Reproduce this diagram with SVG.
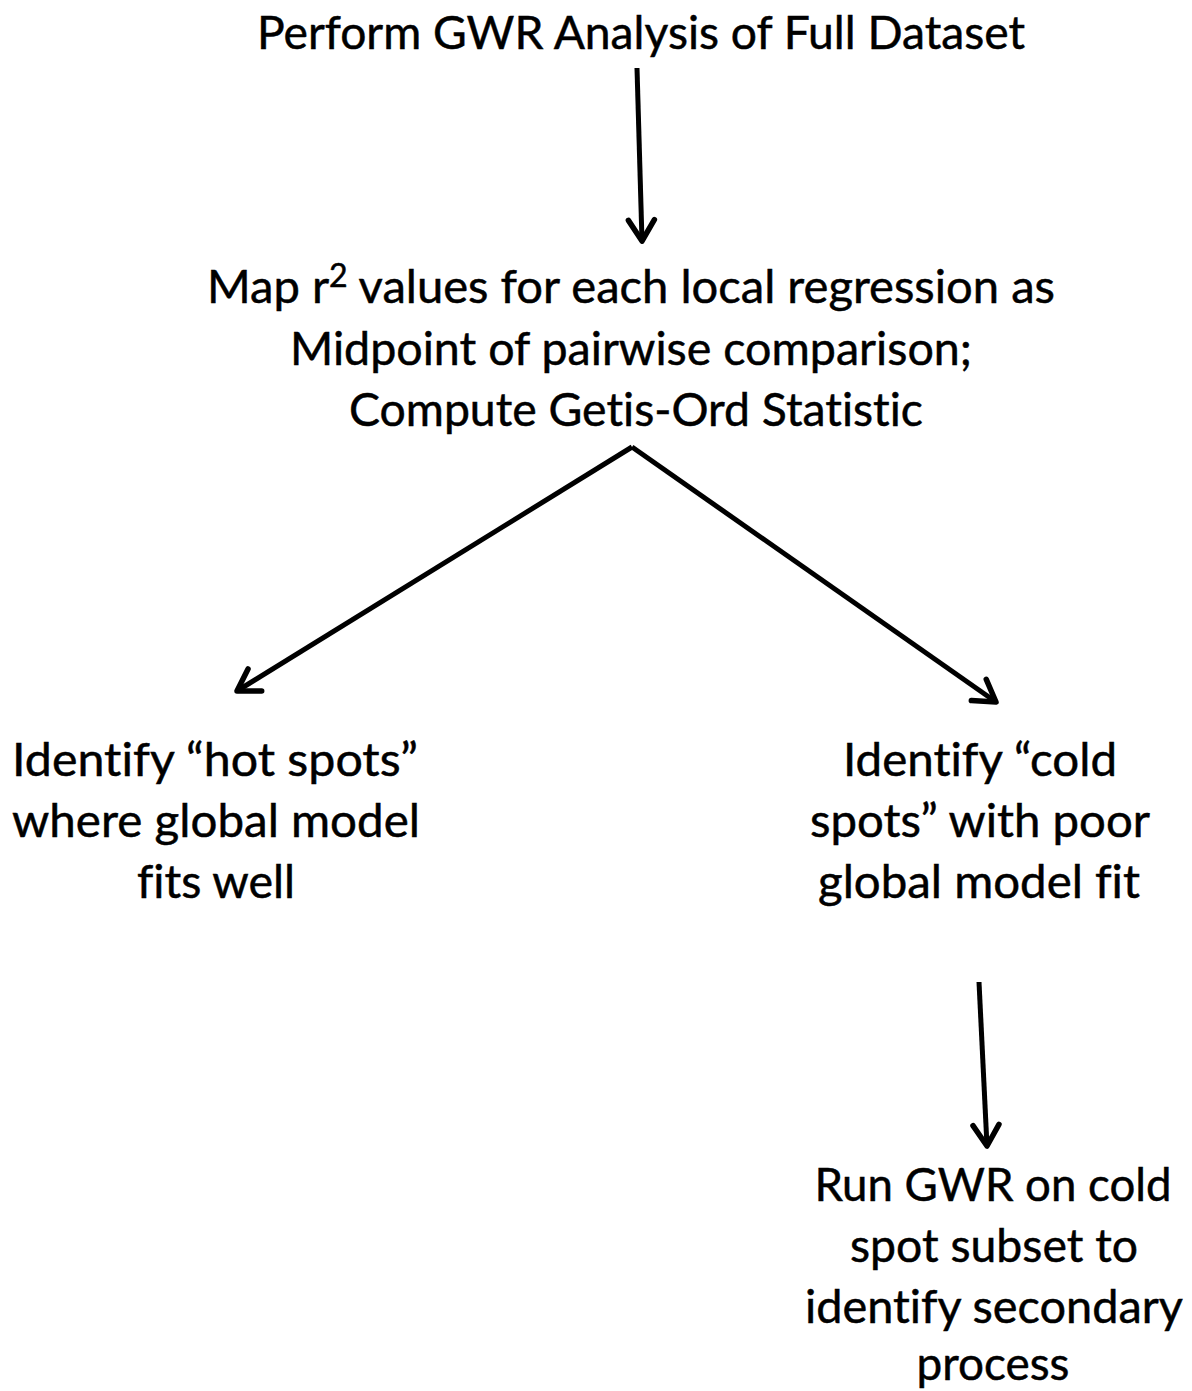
<svg xmlns="http://www.w3.org/2000/svg" width="1192" height="1391" viewBox="0 0 1192 1391">
<style>
text { font-family: Lato, "Liberation Sans", sans-serif; font-size: 47px; fill: #000; stroke: #000; stroke-width: 0.5; text-anchor: middle; font-variant-ligatures: none; }
.conn { stroke: #000; stroke-width: 5; fill: none; marker-end: url(#arrow); }
</style>
<defs>
<marker id="arrow" markerUnits="userSpaceOnUse" markerWidth="40" markerHeight="40" viewBox="-30 -20 40 40" refX="0" refY="0" orient="auto">
<path d="M -21 -13 L 0 0 L -21 13" stroke="#000" stroke-width="5.5" fill="none" stroke-linecap="round" stroke-linejoin="round"/>
</marker>
</defs>
<rect width="1192" height="1391" fill="#fff"/>
<g id="connectors">
<line class="conn" x1="637" y1="68" x2="642" y2="241"/>
<line class="conn" x1="632" y1="447" x2="237" y2="691"/>
<line class="conn" x1="632" y1="447" x2="996" y2="702"/>
<line class="conn" x1="979" y1="982" x2="987" y2="1146"/>
</g>
<g id="node-gwr-full">
<text x="641" y="49" textLength="768" lengthAdjust="spacingAndGlyphs">Perform GWR Analysis of Full Dataset</text>
</g>
<g id="node-map-r2">
<text x="631" y="303" textLength="848" lengthAdjust="spacingAndGlyphs">Map r<tspan dy="-16" font-size="32">2</tspan><tspan dy="16"> values for each local regression as</tspan></text>
<text x="631" y="365" textLength="682" lengthAdjust="spacingAndGlyphs">Midpoint of pairwise comparison;</text>
<text x="636" y="426" textLength="574" lengthAdjust="spacingAndGlyphs">Compute Getis-Ord Statistic</text>
</g>
<g id="node-hot-spots">
<text x="215" y="776" textLength="406" lengthAdjust="spacingAndGlyphs">Identify “hot spots”</text>
<text x="216" y="837" textLength="408" lengthAdjust="spacingAndGlyphs">where global model</text>
<text x="216" y="898" textLength="158" lengthAdjust="spacingAndGlyphs">fits well</text>
</g>
<g id="node-cold-spots">
<text x="980" y="776" textLength="274" lengthAdjust="spacingAndGlyphs">Identify “cold</text>
<text x="980" y="837" textLength="340" lengthAdjust="spacingAndGlyphs">spots” with poor</text>
<text x="979" y="898" textLength="322" lengthAdjust="spacingAndGlyphs">global model fit</text>
</g>
<g id="node-run-gwr">
<text x="993" y="1201" textLength="357" lengthAdjust="spacingAndGlyphs">Run GWR on cold</text>
<text x="994" y="1262" textLength="288" lengthAdjust="spacingAndGlyphs">spot subset to</text>
<text x="994" y="1323" textLength="378" lengthAdjust="spacingAndGlyphs">identify secondary</text>
<text x="993" y="1380" textLength="153" lengthAdjust="spacingAndGlyphs">process</text>
</g>
</svg>
